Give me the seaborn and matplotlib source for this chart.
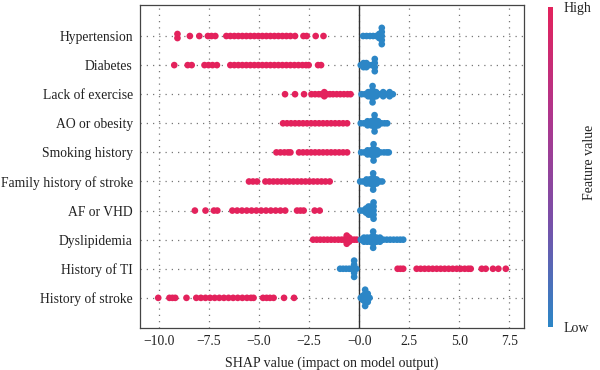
import warnings
import numpy as np
import pandas as pd
import matplotlib
matplotlib.use("Agg")
import matplotlib.pyplot as plt
import seaborn as sns
from matplotlib.colors import LinearSegmentedColormap
from matplotlib.cm import ScalarMappable

warnings.filterwarnings("ignore")

features = ["Hypertension", "Diabetes", "Lack of exercise", "AO or obesity",
            "Smoking history", "Family history of stroke", "AF or VHD",
            "Dyslipidemia", "History of TI", "History of stroke"]

# SHAP values of samples with a high feature value (red)
high_hypertension = [-9.07, -9.07, -8.45, -7.98, -7.55, -7.37, -7.18, -6.63, -6.43, -6.23,
                     -6.03, -5.83, -5.63, -5.43, -5.23, -5.03, -4.83, -4.63, -4.43, -4.23,
                     -4.03, -3.83, -3.63, -3.43, -3.2, -2.78, -2.62, -2.17, -1.78]
high_diabetes = [-9.23, -8.56, -8.36, -7.72, -7.52, -7.32, -7.1, -6.43, -6.23, -6.03,
                 -5.83, -5.63, -5.43, -5.23, -5.03, -4.83, -4.63, -4.43, -4.23, -4.03,
                 -3.83, -3.63, -3.43, -3.23, -3.03, -2.83, -2.65, -2.52, -2.05, -1.9]
high_lack = [-3.7, -3.2, -2.75, -2.38, -2.2, -2.02, -1.88, -1.74, -1.74, -1.6,
             -1.46, -1.3, -1.12, -0.94, -0.76, -0.58, -0.43]
high_ao = [-3.8, -3.6, -3.4, -3.2, -3.0, -2.8, -2.6, -2.4, -2.2, -2.0, -1.8, -1.6,
           -1.4, -1.2, -1.0, -0.8, -0.6]
high_smoking = [-4.13, -3.93, -3.73, -3.55, -3.43, -3.0, -2.8, -2.6, -2.4, -2.2, -2.0,
                -1.8, -1.6, -1.4, -1.2, -1.0, -0.8, -0.6]
high_family = [-5.5, -5.3, -5.1, -4.68, -4.48, -4.28, -4.08, -3.88, -3.68, -3.48, -3.28,
               -3.08, -2.88, -2.68, -2.48, -2.28, -2.08, -1.88, -1.68, -1.47]
high_af = [-8.2, -7.67, -7.25, -7.08, -6.33, -6.09, -5.85, -5.61, -5.37, -5.13, -4.89,
           -4.65, -4.41, -4.17, -3.93, -3.69, -3.1, -2.93, -2.77, -2.22, -1.97]
high_dyslip = [-2.3, -2.12, -1.94, -1.76, -1.58, -1.4, -1.22, -1.04, -0.88, -0.75,
               -0.62, -0.62, -0.62, -0.5, -0.5, -0.38, -0.25, -0.12]
high_ti = [1.92, 2.06, 2.2, 2.87, 3.07, 3.27, 3.47, 3.67, 3.87, 4.07, 4.27, 4.47, 4.67,
           4.87, 5.07, 5.27, 5.45, 5.57, 6.12, 6.32, 6.68, 6.95, 7.32]
high_stroke = [-10.03, -9.47, -9.32, -9.18, -8.62, -8.13, -7.9, -7.67, -7.44, -7.21,
               -6.98, -6.75, -6.52, -6.29, -6.06, -5.83, -5.6, -5.4, -5.27, -4.8, -4.62,
               -4.45, -4.27, -3.75, -3.25]

# samples with a low feature value (blue): (SHAP value, number of samples)
low_hypertension = [(0.2, 1), (0.37, 1), (0.54, 1), (0.7, 1), (0.85, 1), (1.0, 2), (1.13, 5)]
low_diabetes = [(0.08, 1), (0.22, 2), (0.36, 2), (0.5, 1), (0.64, 1), (0.78, 4)]
low_lack = [(0.12, 1), (0.28, 1), (0.45, 2), (0.67, 5), (0.85, 2), (1.02, 1), (1.2, 2),
            (1.37, 1), (1.52, 2), (1.68, 1)]
low_ao = [(0.08, 1), (0.24, 1), (0.42, 2), (0.6, 2), (0.77, 5), (0.95, 2), (1.12, 1),
          (1.27, 1), (1.4, 1)]
low_smoking = [(0.1, 1), (0.26, 1), (0.42, 2), (0.58, 2), (0.72, 5), (0.9, 2), (1.07, 1),
               (1.24, 1), (1.38, 1), (1.48, 1)]
low_family = [(0.05, 1), (0.2, 1), (0.37, 2), (0.53, 2), (0.7, 5), (0.87, 2), (1.02, 1),
              (1.15, 1)]
low_af = [(0.06, 1), (0.2, 1), (0.34, 2), (0.47, 3), (0.6, 3), (0.72, 5)]
low_dyslip = [(0.08, 1), (0.24, 2), (0.4, 2), (0.55, 2), (0.7, 5), (0.87, 2), (1.04, 2),
              (1.21, 1), (1.38, 1), (1.55, 1), (1.72, 1), (1.89, 1), (2.05, 1), (2.2, 1)]
low_ti = [(-0.95, 1), (-0.8, 1), (-0.65, 1), (-0.5, 1), (-0.38, 1), (-0.25, 5), (-0.14, 1)]
low_stroke = [(0.08, 1), (0.18, 2), (0.3, 5), (0.43, 3), (0.52, 1)]

high_sets = [high_hypertension, high_diabetes, high_lack, high_ao, high_smoking,
             high_family, high_af, high_dyslip, high_ti, high_stroke]
low_sets = [low_hypertension, low_diabetes, low_lack, low_ao, low_smoking,
            low_family, low_af, low_dyslip, low_ti, low_stroke]

xticks = [-10.0, -7.5, -5.0, -2.5, 0.0, 2.5, 5.0, 7.5]
xtick_labels = ["\u221210.0", "\u22127.5", "\u22125.0", "\u22122.5", "\u22120.0", "2.5", "5.0", "7.5"]

RED = "#E3225C"
BLUE = "#2C86C6"

rows = []
for i, (hi, lo) in enumerate(zip(high_sets, low_sets)):
    for v in hi:
        rows.append((i, v, "High"))
    for v, n in lo:
        rows += [(i, v, "Low")] * n
df = pd.DataFrame(rows, columns=["row", "shap", "level"])

# stack samples with the same value vertically, centred on the row (beeswarm style)
step = 0.14
grp = df.groupby(["row", "level", "shap"])
df["k"] = grp.cumcount()
df["n"] = grp["shap"].transform("size")
df["y"] = df["row"] + (df["k"] - (df["n"] - 1) / 2) * step

sns.set_theme(style="white")
plt.rcParams["font.family"] = ["Liberation Serif", "DejaVu Serif"]

fig = plt.figure(figsize=(6, 3.7), dpi=100)
ax = fig.add_axes([0.233, 0.114, 0.64, 0.872])

sns.scatterplot(data=df, x="shap", y="y", hue="level",
                palette={"High": RED, "Low": BLUE}, s=23, linewidth=0,
                legend=False, ax=ax, zorder=3)

ax.axvline(0, color="#333333", lw=1.0, zorder=2)
ax.set_xlim(-10.95, 8.22)
ax.set_ylim(10.03, -1.06)
ax.set_xticks(xticks)
ax.set_xticklabels(xtick_labels)
ax.set_yticks(range(len(features)))
ax.set_yticklabels(features)
ax.tick_params(length=0, labelsize=9.8, colors="#222222")
ax.tick_params(axis="y", pad=5)
ax.tick_params(axis="x", pad=5)
ax.set_xlabel("SHAP value (impact on model output)", fontsize=10, labelpad=6, color="#222222")
ax.set_ylabel("")
ax.grid(True, linestyle=(0, (1, 4)), color="#777777", linewidth=0.9)
ax.set_axisbelow(True)
for sp in ax.spines.values():
    sp.set_visible(True)
    sp.set_color("#444444")
    sp.set_linewidth(0.9)

cmap = LinearSegmentedColormap.from_list("shap_rb", [BLUE, "#7A4FA8", "#B0358C", RED])
cax = fig.add_axes([0.913, 0.117, 0.008, 0.865])
cb = fig.colorbar(ScalarMappable(cmap=cmap), cax=cax, ticks=[0, 1])
cb.set_ticklabels(["Low", "High"])
cb.outline.set_visible(False)
cax.tick_params(length=0, labelsize=10, pad=8, colors="#222222")
fig.text(0.983, 0.562, "Feature value", rotation=90, ha="center", va="center",
         fontsize=10, color="#222222")

fig.savefig("out.png", dpi=100)
